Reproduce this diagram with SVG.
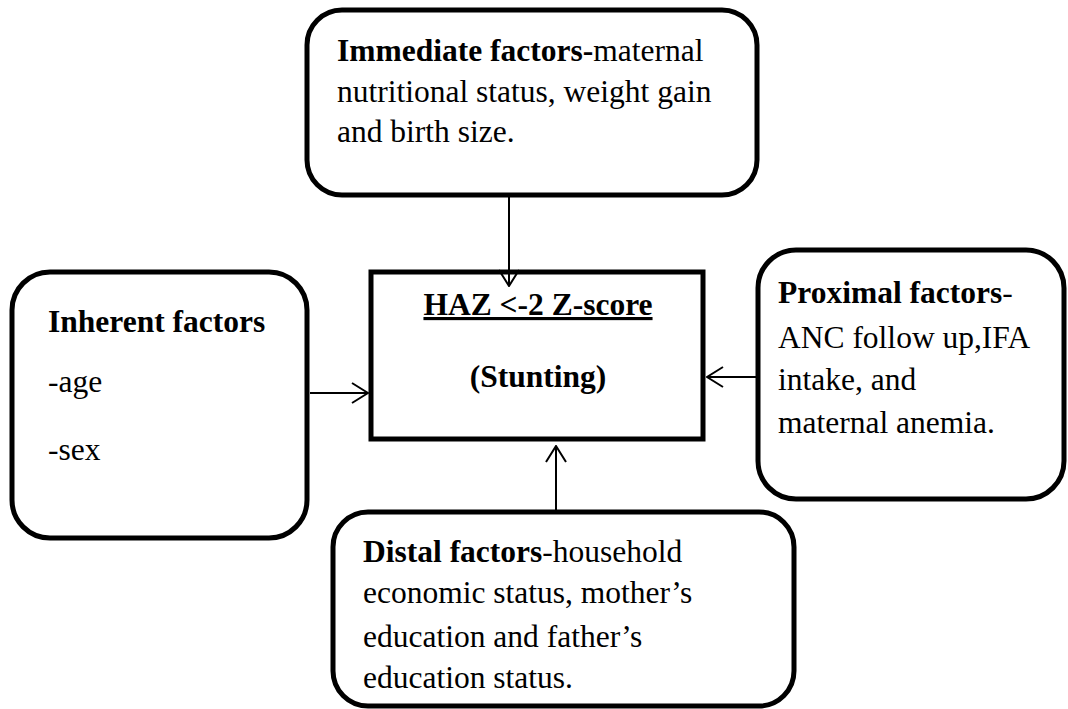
<svg xmlns="http://www.w3.org/2000/svg" width="1068" height="709" viewBox="0 0 1068 709">
<style>
  .box { fill: #ffffff; stroke: #000000; stroke-width: 5; }
  .t { font-family: "Liberation Serif", "Times New Roman", serif; font-size: 31.5px; fill: #000000; }
  .b { font-weight: bold; }
  .conn { stroke: #000000; stroke-width: 2; fill: none; marker-end: url(#arrow); }
</style>
<defs>
  <marker id="arrow" markerUnits="userSpaceOnUse" viewBox="0 0 18 22" refX="17" refY="11" markerWidth="18" markerHeight="22" orient="auto">
    <path d="M1,1 L17,11 L1,21" fill="none" stroke="#000000" stroke-width="2"/>
  </marker>
</defs>
<rect width="1068" height="709" fill="#ffffff"/>

<g id="immediate">
  <rect class="box" x="307" y="10" width="450" height="185" rx="35" ry="35"/>
  <text class="t" x="337" y="61"><tspan class="b">Immediate factors-</tspan>maternal</text>
  <text class="t" x="337" y="102">nutritional status, weight gain</text>
  <text class="t" x="337" y="142">and birth size.</text>
</g>

<g id="inherent">
  <rect class="box" x="12" y="272" width="295" height="266" rx="38" ry="38"/>
  <text class="t b" x="48" y="332">Inherent factors</text>
  <text class="t" x="48" y="392">-age</text>
  <text class="t" x="48" y="460">-sex</text>
</g>

<g id="outcome">
  <rect x="371" y="272" width="332" height="167" fill="#ffffff" stroke="#000000" stroke-width="5"/>
  <text class="t b" x="538" y="315" text-anchor="middle" text-decoration="underline">HAZ &lt;-2 Z-score</text>
  <text class="t b" x="538" y="387" text-anchor="middle">(Stunting)</text>
</g>

<g id="proximal">
  <rect class="box" x="758" y="250" width="306" height="249" rx="38" ry="38"/>
  <text class="t" x="778" y="303"><tspan class="b">Proximal factors</tspan>-</text>
  <text class="t" x="778" y="348">ANC follow up,IFA</text>
  <text class="t" x="778" y="390">intake, and</text>
  <text class="t" x="778" y="433">maternal anemia.</text>
</g>

<g id="distal">
  <rect class="box" x="333" y="512" width="461" height="194" rx="35" ry="35"/>
  <text class="t" x="363" y="562"><tspan class="b">Distal factors</tspan>-household</text>
  <text class="t" x="363" y="603">economic status, mother’s</text>
  <text class="t" x="363" y="647">education and father’s</text>
  <text class="t" x="363" y="688">education status.</text>
</g>

<g id="connectors">
  <line class="conn" x1="509" y1="197" x2="509" y2="286"/>
  <line class="conn" x1="310" y1="393" x2="368" y2="393"/>
  <line class="conn" x1="757" y1="377" x2="707" y2="377"/>
  <line class="conn" x1="556" y1="510" x2="556" y2="446"/>
</g>
</svg>
